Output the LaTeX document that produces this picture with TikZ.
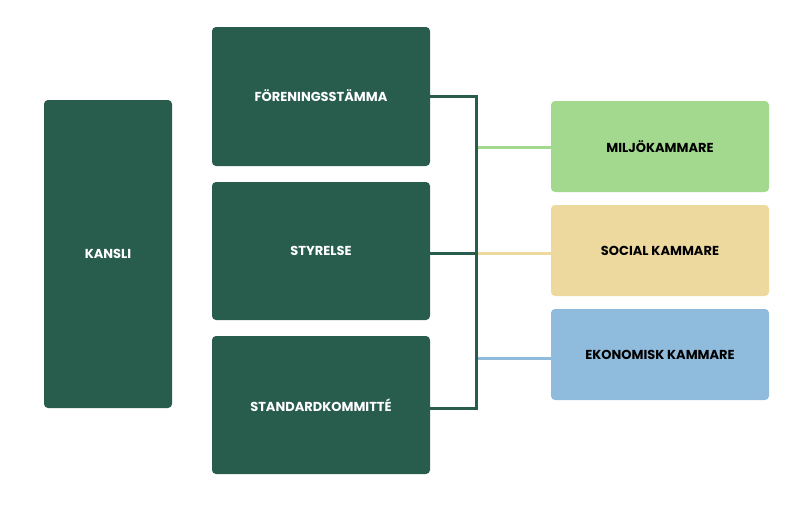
\documentclass[tikz,border=0pt]{standalone}
\usepackage{fontspec}
\setmainfont{Poppins}[UprightFont=* SemiBold, BoldFont=* Bold]
\definecolor{dkgreen}{HTML}{285C4D}
\definecolor{ltgreen}{HTML}{A3D98E}
\definecolor{ltyellow}{HTML}{EDD99E}
\definecolor{ltblue}{HTML}{8FBBDC}
\begin{document}
\begin{tikzpicture}[x=1pt,y=-1pt,
  darkbox/.style={fill=dkgreen, rounded corners=4pt, text=white, font=\bfseries\fontsize{13}{14}\selectfont, inner sep=0pt},
  lightbox/.style={rounded corners=4pt, text=black, font=\bfseries\fontsize{13}{14}\selectfont, inner sep=0pt, minimum width=218pt, minimum height=91pt},
  bracket/.style={draw=dkgreen, line width=3pt},
  link/.style={line width=3pt}]
\useasboundingbox (0,0) rectangle (800,507);
\node[darkbox, minimum width=128pt, minimum height=308pt] (kansli) at (108,254) {KANSLI};
\node[darkbox, minimum width=218pt, minimum height=139pt] (stamma) at (321,96.5) {\raisebox{1.5pt}{FÖRENINGSSTÄMMA}};
\node[darkbox, minimum width=218pt, minimum height=138pt] (styrelse) at (321,251) {STYRELSE};
\node[darkbox, minimum width=218pt, minimum height=138pt] (standard) at (321,405) {STANDARDKOMMITTÉ};
\node[lightbox, fill=ltgreen] (miljo) at (660,146.5) {MILJÖKAMMARE};
\node[lightbox, fill=ltyellow] (social) at (660,250.5) {SOCIAL KAMMARE};
\node[lightbox, fill=ltblue] (ekonomi) at (660,354.5) {EKONOMISK KAMMARE};
\coordinate (top) at (475,96.5);
\coordinate (mid) at (475,253);
\coordinate (bot) at (475,408);
\draw[link, ltgreen] (475,147) -- (miljo.west |- 0,147);
\draw[link, ltyellow] (475,253) -- (social.west |- 0,253);
\draw[link, ltblue] (475,358) -- (ekonomi.west |- 0,358);
\draw[bracket] (stamma.east |- top) -- ([xshift=1.5pt]top) -- ([xshift=1.5pt]bot) -- (standard.east |- bot);
\draw[bracket] (styrelse.east |- mid) -- (mid);
\end{tikzpicture}
\end{document}
